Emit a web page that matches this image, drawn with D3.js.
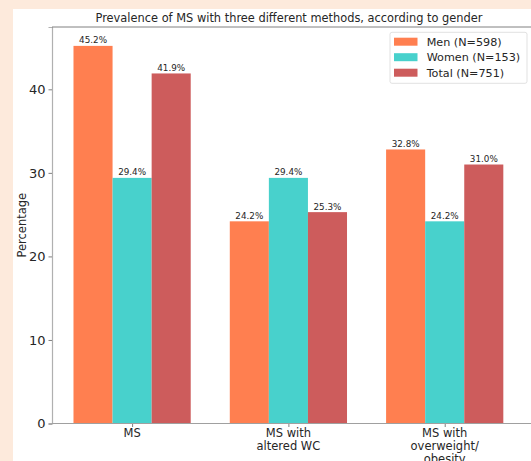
<!DOCTYPE html>
<html>
<head>
<meta charset="utf-8">
<script src="https://cdn.jsdelivr.net/npm/d3@7"></script>
<style>
  html, body { margin: 0; padding: 0; background: #FDEADC; }
  svg { display: block; }
  text { font-family: "DejaVu Sans", sans-serif; fill: #262626; }
</style>
</head>
<body>
<script>
const categories = [["MS"], ["MS with", "altered WC"], ["MS with", "overweight/", "obesity"]];
const seriesNames = ["Men (N=598)", "Women (N=153)", "Total (N=751)"];
const menValues = [45.2, 24.2, 32.8];
const womenValues = [29.4, 29.4, 24.2];
const totalValues = [41.9, 25.3, 31.0];
const yTicks = [0, 10, 20, 30, 40];
const colors = ["#FF7F50", "#48D1CC", "#CD5C5C"];
const title = "Prevalence of MS with three different methods, according to gender";
const yLabel = "Percentage";

const W = 531, H = 461;
const series = [menValues, womenValues, totalValues];
const svg = d3.select("body").append("svg").attr("width", W).attr("height", H);

// figure white area
svg.append("rect").attr("x", 13).attr("y", 9).attr("width", W - 13).attr("height", H - 9).attr("fill", "#ffffff");

const axLeft = 52, axTop = 27, axBottom = 423.5, unit = 156.3;
const x = d3.scaleLinear().domain([-0.5125, 2.5125]).range([axLeft, axLeft + 3.025 * unit]);
const y = d3.scaleLinear().domain([0, 47.46]).range([axBottom, axTop]);
const bw = 0.25;

// bars
series.forEach((vals, si) => {
  const g = svg.append("g");
  g.selectAll("rect").data(vals).join("rect")
    .attr("x", (d, i) => x(i + (si - 1) * bw - bw / 2))
    .attr("width", x(bw) - x(0))
    .attr("y", d => y(d))
    .attr("height", d => y(0) - y(d))
    .attr("fill", colors[si]);
  g.selectAll("text").data(vals).join("text")
    .attr("x", (d, i) => x(i + (si - 1) * bw))
    .attr("y", d => y(d) - 2.5)
    .attr("text-anchor", "middle")
    .attr("font-size", "8.8px")
    .text(d => d.toFixed(1) + "%");
});

// y axis
const yAxis = d3.axisLeft(y).tickValues(yTicks).tickSize(3.5).tickPadding(3).tickFormat(d3.format("d"));
const gy = svg.append("g").attr("transform", `translate(${axLeft},0)`).call(yAxis);
gy.select(".domain").attr("stroke", "#b0b0b0").attr("stroke-width", 1.2);
gy.selectAll(".tick line").attr("stroke", "#808080");
gy.selectAll(".tick text").attr("font-size", "13px").attr("fill", "#262626").attr("font-family", "DejaVu Sans");

// x axis
const xAxis = d3.axisBottom(x).tickValues([0, 1, 2]).tickSize(3.5).tickFormat("");
const gx = svg.append("g").attr("transform", `translate(0,${axBottom})`).call(xAxis);
gx.select(".domain").remove();
gx.selectAll(".tick line").attr("stroke", "#808080");
svg.append("line").attr("x1", axLeft).attr("x2", W + 5).attr("y1", axBottom).attr("y2", axBottom)
  .attr("stroke", "#a0a0a0").attr("stroke-width", 1.2);
svg.append("line").attr("x1", axLeft).attr("x2", W + 5).attr("y1", axTop).attr("y2", axTop)
  .attr("stroke", "#808080").attr("stroke-width", 1);

categories.forEach((lines, i) => {
  lines.forEach((ln, k) => {
    svg.append("text").attr("x", x(i)).attr("y", axBottom + 13.8 + k * 12.6)
      .attr("text-anchor", "middle").attr("font-size", "11.5px").text(ln);
  });
});

// y label
svg.append("text").attr("transform", `translate(26,${(axTop + axBottom) / 2}) rotate(-90)`)
  .attr("text-anchor", "middle").attr("font-size", "11.5px").text(yLabel);

// title
svg.append("text").attr("x", 289).attr("y", 22).attr("text-anchor", "middle")
  .attr("font-size", "11.4px").text(title);

// legend
const lg = svg.append("g");
lg.append("rect").attr("x", 390).attr("y", 32.3).attr("width", 137).attr("height", 51)
  .attr("rx", 2).attr("fill", "#ffffff").attr("stroke", "#d9d9d9").attr("stroke-width", 0.8);
seriesNames.forEach((n, i) => {
  const cy = 41.7 + i * 15.5;
  lg.append("rect").attr("x", 394).attr("y", cy - 4).attr("width", 23.5).attr("height", 8).attr("fill", colors[i]);
  lg.append("text").attr("x", 426.7).attr("y", cy + 4).attr("font-size", "11.2px").text(n);
});
</script>
</body>
</html>
